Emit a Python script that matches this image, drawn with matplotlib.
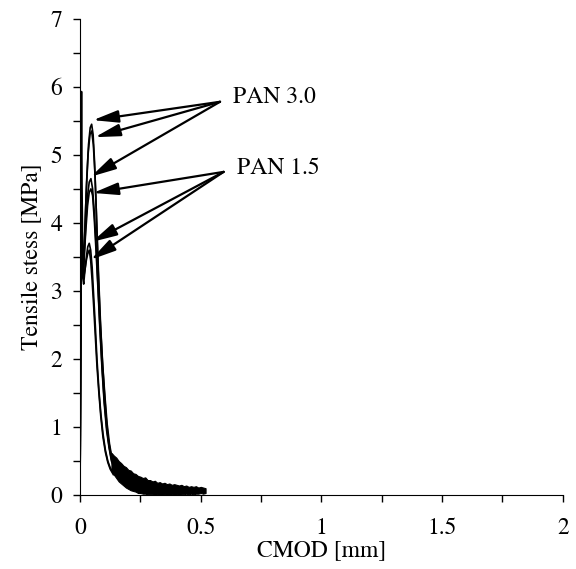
"""Tensile stress vs CMOD for PAN 1.5 / PAN 3.0 specimens."""
import matplotlib

matplotlib.use("Agg")
import matplotlib.pyplot as plt
from matplotlib.ticker import MultipleLocator, FuncFormatter

# --- curves (CMOD [mm], stress [MPa]) ---
pan30_a_x = [0, 0.002, 0.004, 0.006, 0.008, 0.011, 0.014, 0.02, 0.027, 0.035, 0.042, 0.048,
             0.054, 0.06, 0.067, 0.075, 0.083, 0.092, 0.1, 0.108, 0.116, 0.125, 0.135, 0.145]
pan30_a_y = [0, 2.4, 4.6, 5.93, 4.6, 3.5, 3.3, 3.9, 4.6, 5.15, 5.4, 5.45,
             5.3, 4.9, 4.2, 3.3, 2.6, 2.0, 1.55, 1.15, 0.85, 0.65, 0.5, 0.42]
pan30_b_x = [0, 0.002, 0.004, 0.007, 0.01, 0.013, 0.018, 0.025, 0.033, 0.041, 0.048,
             0.055, 0.062, 0.069, 0.077, 0.085, 0.094, 0.103, 0.112, 0.122, 0.132, 0.145]
pan30_b_y = [0, 2.2, 3.4, 3.9, 3.3, 3.2, 3.7, 4.4, 5.0, 5.3, 5.35,
             5.15, 4.7, 4.0, 3.2, 2.5, 1.9, 1.45, 1.05, 0.75, 0.55, 0.4]
pan30_c_x = [0, 0.002, 0.005, 0.008, 0.012, 0.017, 0.024, 0.031, 0.038, 0.045, 0.052,
             0.059, 0.066, 0.074, 0.082, 0.091, 0.1, 0.11, 0.12, 0.13, 0.143]
pan30_c_y = [0, 2.0, 3.5, 3.6, 3.2, 3.5, 4.0, 4.4, 4.6, 4.65, 4.5,
             4.15, 3.7, 3.1, 2.5, 1.9, 1.4, 1.0, 0.72, 0.52, 0.4]
pan15_a_x = [0, 0.002, 0.005, 0.008, 0.012, 0.017, 0.024, 0.031, 0.038, 0.045, 0.052,
             0.059, 0.066, 0.074, 0.082, 0.091, 0.1, 0.11, 0.12, 0.13, 0.142]
pan15_a_y = [0, 2.1, 3.4, 3.7, 3.3, 3.5, 3.9, 4.25, 4.45, 4.5, 4.4,
             4.05, 3.6, 3.05, 2.45, 1.85, 1.35, 0.95, 0.7, 0.5, 0.38]
pan15_b_x = [0, 0.002, 0.005, 0.008, 0.011, 0.015, 0.02, 0.026, 0.032, 0.038, 0.044,
             0.05, 0.056, 0.063, 0.07, 0.078, 0.086, 0.095, 0.105, 0.115, 0.125, 0.138]
pan15_b_y = [0, 2.3, 3.6, 3.8, 3.2, 3.1, 3.3, 3.5, 3.65, 3.7, 3.6,
             3.35, 2.95, 2.5, 2.0, 1.55, 1.2, 0.9, 0.66, 0.5, 0.4, 0.32]
pan15_c_x = [0, 0.002, 0.005, 0.008, 0.011, 0.015, 0.02, 0.026, 0.032, 0.038, 0.044,
             0.05, 0.056, 0.063, 0.07, 0.078, 0.086, 0.095, 0.105, 0.115, 0.125, 0.138]
pan15_c_y = [0, 2.0, 3.3, 3.5, 3.35, 3.2, 3.3, 3.45, 3.55, 3.6, 3.45,
             3.15, 2.8, 2.35, 1.9, 1.5, 1.15, 0.85, 0.63, 0.48, 0.38, 0.3]

# noisy softening tail, upper / lower edge of the band
tail_x = [0.13, 0.14, 0.15, 0.16, 0.17, 0.18, 0.19, 0.2, 0.21, 0.22, 0.23, 0.24, 0.25,
          0.26, 0.27, 0.28, 0.29, 0.3, 0.31, 0.32, 0.33, 0.34, 0.35, 0.36, 0.37, 0.38,
          0.39, 0.4, 0.41, 0.42, 0.43, 0.44, 0.45, 0.46, 0.47, 0.48, 0.49, 0.5, 0.51, 0.52]
tail_hi = [0.62, 0.58, 0.55, 0.5, 0.47, 0.43, 0.41, 0.37, 0.36, 0.32, 0.31, 0.28, 0.27,
           0.25, 0.26, 0.22, 0.22, 0.2, 0.21, 0.18, 0.19, 0.17, 0.18, 0.16, 0.17, 0.15,
           0.16, 0.15, 0.14, 0.15, 0.13, 0.14, 0.12, 0.13, 0.12, 0.13, 0.11, 0.12, 0.11, 0.1]
tail_lo = [0.36, 0.3, 0.25, 0.2, 0.17, 0.14, 0.11, 0.09, 0.07, 0.06, 0.05, 0.03, 0.03,
           0.02, 0.02, 0.01, 0.01, 0.01, 0.0, 0.01, 0.0, 0.0, 0.01, 0.0, 0.0, 0.01,
           0.0, 0.01, 0.0, 0.01, 0.01, 0.02, 0.01, 0.02, 0.01, 0.02, 0.02, 0.03, 0.02, 0.03]

# arrow heads (x, y) and arrow starts
pan30_heads = [(0.054, 5.51), (0.062, 5.26), (0.045, 4.68)]
pan15_heads = [(0.054, 4.44), (0.049, 3.72), (0.045, 3.46)]
pan30_tail = (0.58, 5.78)
pan15_tail = (0.595, 4.75)

plt.rcParams["font.family"] = ["STIXGeneral", "Liberation Serif", "DejaVu Serif"]
plt.rcParams["font.size"] = 17

fig = plt.figure(figsize=(5.76, 5.69), dpi=100)
ax = fig.add_axes([0.139, 0.13, 0.838, 0.837])

curves = [(pan30_a_x, pan30_a_y), (pan30_b_x, pan30_b_y), (pan30_c_x, pan30_c_y),
          (pan15_a_x, pan15_a_y), (pan15_b_x, pan15_b_y), (pan15_c_x, pan15_c_y)]
for cx, cy in curves:
    ax.plot(cx, cy, color="black", lw=1.2)
ax.fill_between(tail_x, tail_lo, tail_hi, color="black", lw=0.8)

for heads, tail in [(pan30_heads, pan30_tail), (pan15_heads, pan15_tail)]:
    for h in heads:
        ax.annotate("", xy=h, xytext=tail,
                    arrowprops=dict(arrowstyle="-|>,head_length=0.9,head_width=0.22",
                                    color="black", lw=1.6, shrinkA=0, shrinkB=0))
ax.text(0.635, 5.85, "PAN 3.0", va="center", ha="left")
ax.text(0.65, 4.8, "PAN 1.5", va="center", ha="left")

ax.set_xlim(0, 2)
ax.set_ylim(0, 7)
ax.xaxis.set_major_locator(MultipleLocator(0.5))
ax.xaxis.set_minor_locator(MultipleLocator(0.25))
ax.yaxis.set_major_locator(MultipleLocator(1))
ax.yaxis.set_minor_locator(MultipleLocator(0.5))
fmt = FuncFormatter(lambda v, _: f"{v:g}")
ax.xaxis.set_major_formatter(fmt)
ax.yaxis.set_major_formatter(fmt)
ax.tick_params(which="both", direction="out", length=5, width=1)
ax.tick_params(axis="x", pad=11)
ax.tick_params(axis="y", pad=8)
ax.spines["top"].set_visible(False)
ax.spines["right"].set_visible(False)

ax.set_xlabel("CMOD [mm]", labelpad=1)
ax.set_ylabel("Tensile stess [MPa]", labelpad=5)

fig.savefig("out.png", dpi=100)
